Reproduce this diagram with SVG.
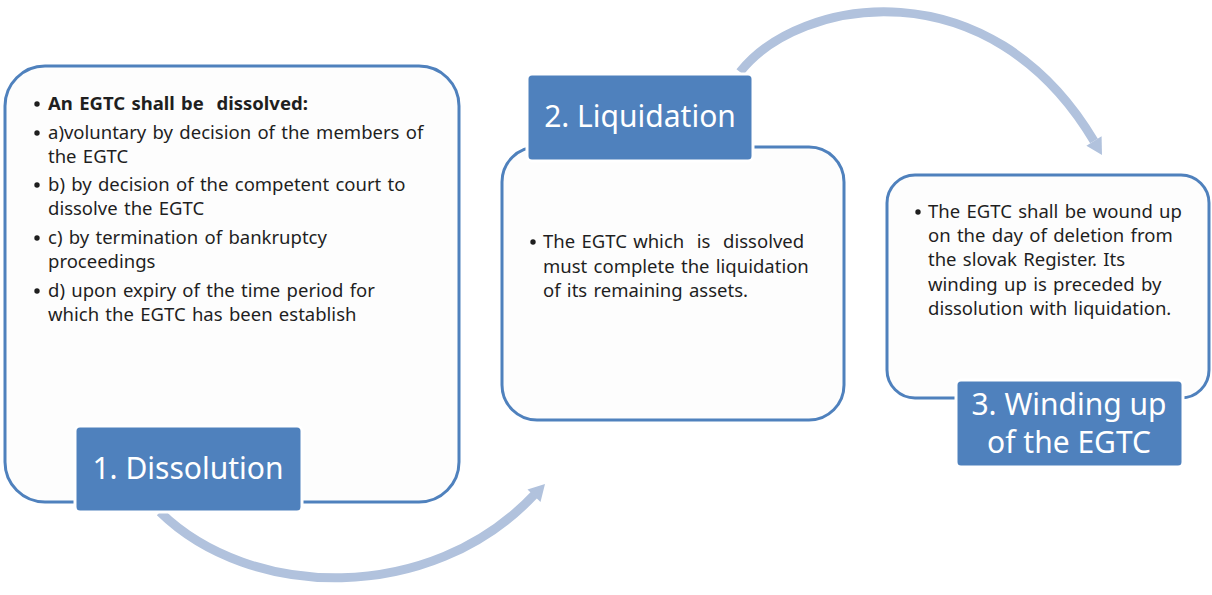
<svg xmlns="http://www.w3.org/2000/svg" width="1212" height="595" viewBox="0 0 1212 595">
<style>
.box{fill:#fdfdfd;stroke:#4f81bd;stroke-width:3}
.lab{fill:#4f81bd;stroke:#ffffff;stroke-width:3}
.lt{fill:#ffffff;font-family:"Noto Sans","Open Sans",sans-serif;font-size:30px;text-anchor:middle}
.bt{fill:#1f1f1f;font-family:"Noto Sans","Open Sans",sans-serif;font-size:18.5px;word-spacing:1.5px}
.b{font-weight:bold}
.arc{fill:none;stroke:#b1c2dd;stroke-width:9}
.head{fill:#b1c2dd}
</style>
<rect width="1212" height="595" fill="#ffffff"/>
<g id="connectors">
<path class="arc" d="M160,512 C250,600 430,605 534,495"/>
<polygon class="head" points="545,484 540.5,502 527.5,489.5"/>
<path class="arc" d="M740,72 C800,-4 990,-34 1094,141"/>
<polygon class="head" points="1102,155 1086.4,145.7 1101.6,136.3"/>
</g>
<g id="node1">
<rect class="box" x="5" y="66" width="454" height="436" rx="40"/>
<g class="bt">
<circle cx="37" cy="104" r="2.7" fill="#1f1f1f"/>
<text x="48" y="110" class="b" xml:space="preserve">An EGTC shall be  dissolved:</text>
<circle cx="37" cy="133" r="2.7" fill="#1f1f1f"/>
<text x="48" y="139">a)voluntary by decision of the members of</text>
<text x="48" y="163">the EGTC</text>
<circle cx="37" cy="185" r="2.7" fill="#1f1f1f"/>
<text x="48" y="191">b) by decision of the competent court to</text>
<text x="48" y="215">dissolve the EGTC</text>
<circle cx="37" cy="238" r="2.7" fill="#1f1f1f"/>
<text x="48" y="244">c) by termination of bankruptcy</text>
<text x="48" y="268">proceedings</text>
<circle cx="37" cy="291" r="2.7" fill="#1f1f1f"/>
<text x="48" y="297">d) upon expiry of the time period for</text>
<text x="48" y="321">which the EGTC has been establish</text>
</g>
<rect class="lab" x="75" y="426" width="227" height="86" rx="5"/>
<text class="lt" x="188" y="479">1. Dissolution</text>
</g>
<g id="node2">
<rect class="box" x="502" y="147" width="342" height="273" rx="35"/>
<g class="bt">
<circle cx="533" cy="242" r="2.7" fill="#1f1f1f"/>
<text x="543" y="248" xml:space="preserve">The EGTC which  is  dissolved</text>
<text x="543" y="273">must complete the liquidation</text>
<text x="543" y="297">of its remaining assets.</text>
</g>
<rect class="lab" x="527" y="74" width="226" height="87" rx="5"/>
<text class="lt" x="640" y="127">2. Liquidation</text>
</g>
<g id="node3">
<rect class="box" x="887" y="175" width="322" height="223" rx="28"/>
<g class="bt">
<circle cx="918" cy="212" r="2.7" fill="#1f1f1f"/>
<text x="928" y="218">The EGTC shall be wound up</text>
<text x="928" y="242">on the day of deletion from</text>
<text x="928" y="266">the slovak Register. Its</text>
<text x="928" y="291">winding up is preceded by</text>
<text x="928" y="315">dissolution with liquidation.</text>
</g>
<rect class="lab" x="956" y="380" width="227" height="87" rx="5"/>
<text class="lt" x="1069" y="415">3. Winding up</text>
<text class="lt" x="1069" y="453">of the EGTC</text>
</g>
</svg>
